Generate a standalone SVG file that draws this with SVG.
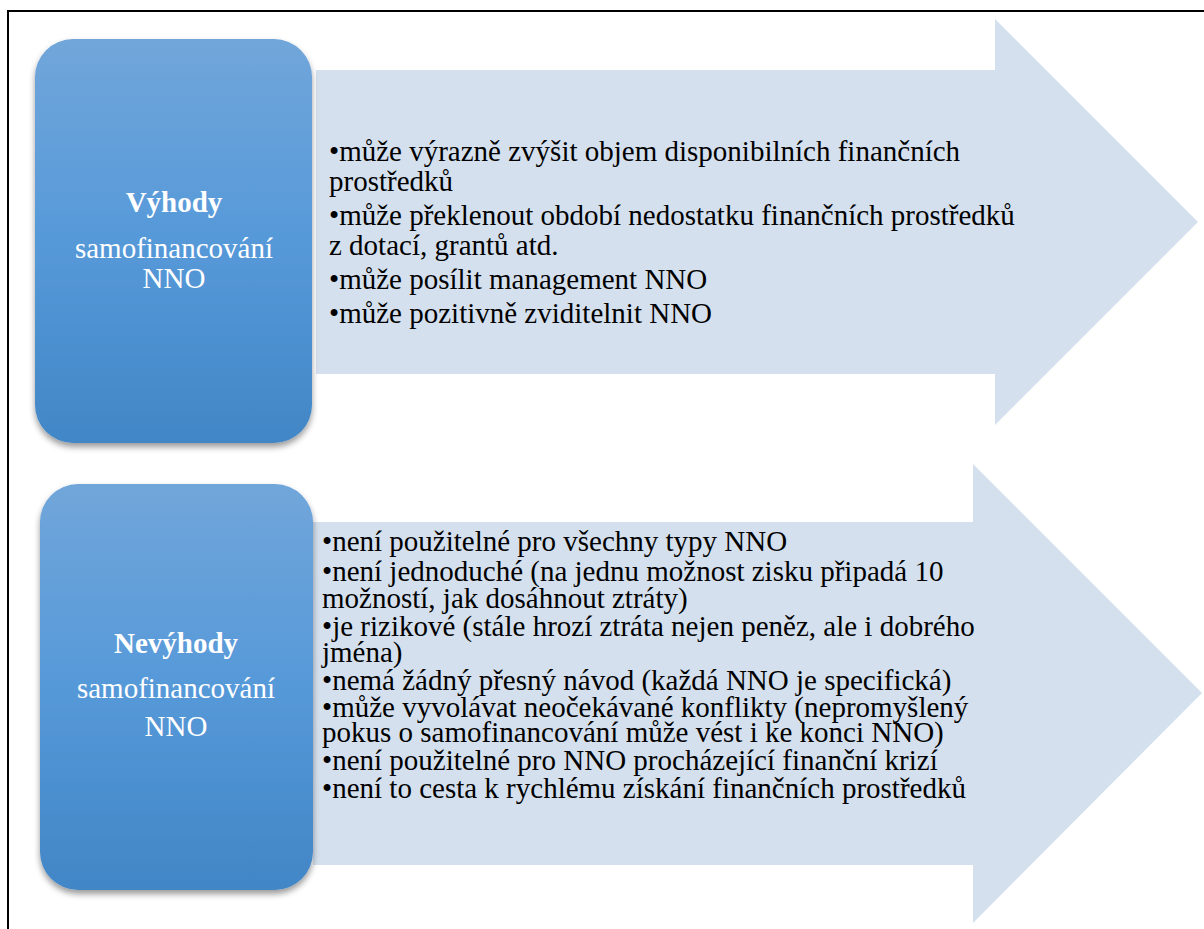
<svg xmlns="http://www.w3.org/2000/svg" width="1204" height="929" viewBox="0 0 1204 929">
<defs>
<linearGradient id="blueGrad" x1="0" y1="0" x2="0" y2="1">
<stop offset="0" stop-color="#71A6DA"/>
<stop offset="0.5" stop-color="#5699D9"/>
<stop offset="1" stop-color="#4286C6"/>
</linearGradient>
<filter id="shadow" x="-10%" y="-10%" width="120%" height="120%">
<feDropShadow dx="0" dy="4" stdDeviation="3" flood-color="#000" flood-opacity="0.4"/>
</filter>
</defs>
<style>
.arrow{fill:#D5E0EE;}
.box{fill:url(#blueGrad);filter:url(#shadow);}
.title{font-family:"Liberation Serif","Times New Roman",serif;font-size:29px;font-weight:bold;fill:#fff;text-anchor:middle;}
.sub{font-family:"Liberation Serif","Times New Roman",serif;font-size:29px;fill:#fff;text-anchor:middle;}
.item{font-family:"Liberation Serif","Times New Roman",serif;font-size:29px;fill:#000;}
</style>
<rect width="1204" height="929" fill="#fff"/>
<path d="M8,929 V11 H1204" fill="none" stroke="#000" stroke-width="2"/>
<g id="connectors">
<polygon id="arrow-top" class="arrow" points="316,70 995,70 995,19 1198,222 995,425 995,374 316,374"/>
<polygon id="arrow-bottom" class="arrow" points="313,522 973,522 973,464 1202,693 973,923 973,865 313,865"/>
</g>
<g id="vyhody">
<rect class="box" x="35" y="39" width="277" height="404" rx="38" ry="38"/>
<text class="title" x="174" y="212">Výhody</text>
<text class="sub" x="174" y="258">samofinancování</text>
<text class="sub" x="174" y="288">NNO</text>
</g>
<g id="vyhody-list">
<text class="item" x="329" y="161">•může výrazně zvýšit objem disponibilních finančních</text>
<text class="item" x="329" y="191">prostředků</text>
<text class="item" x="329" y="225">•může překlenout období nedostatku finančních prostředků</text>
<text class="item" x="329" y="255">z dotací, grantů atd.</text>
<text class="item" x="329" y="289">•může posílit management NNO</text>
<text class="item" x="329" y="323">•může pozitivně zviditelnit NNO</text>
</g>
<g id="nevyhody">
<rect class="box" x="40" y="484" width="273" height="406" rx="38" ry="38"/>
<text class="title" x="176" y="653">Nevýhody</text>
<text class="sub" x="176" y="698">samofinancování</text>
<text class="sub" x="176" y="736">NNO</text>
</g>
<g id="nevyhody-list">
<text class="item" x="322" y="551">•není použitelné pro všechny typy NNO</text>
<text class="item" x="322" y="581">•není jednoduché (na jednu možnost zisku připadá 10</text>
<text class="item" x="322" y="608">možností, jak dosáhnout ztráty)</text>
<text class="item" x="322" y="636">•je rizikové (stále hrozí ztráta nejen peněz, ale i dobrého</text>
<text class="item" x="322" y="662">jména)</text>
<text class="item" x="322" y="690">•nemá žádný přesný návod (každá NNO je specifická)</text>
<text class="item" x="322" y="717">•může vyvolávat neočekávané konflikty (nepromyšlený</text>
<text class="item" x="322" y="742">pokus o samofinancování může vést i ke konci NNO)</text>
<text class="item" x="322" y="770">•není použitelné pro NNO procházející finanční krizí</text>
<text class="item" x="322" y="798">•není to cesta k rychlému získání finančních prostředků</text>
</g>
</svg>
